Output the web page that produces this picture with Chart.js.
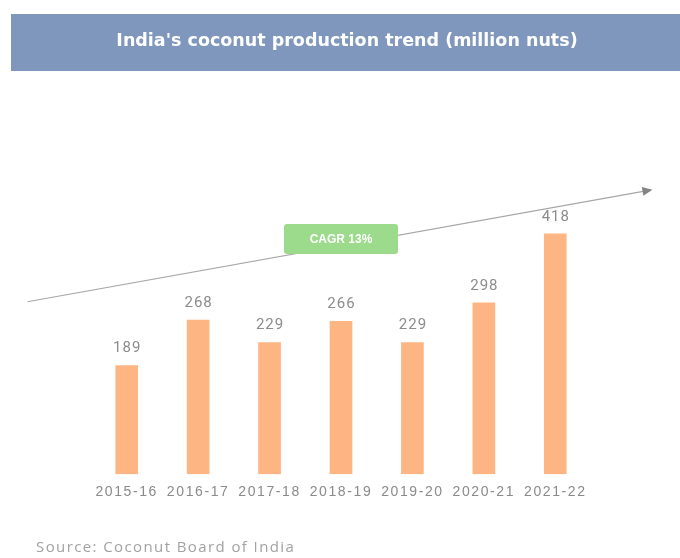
<!DOCTYPE html>
<html>
<head>
<meta charset="utf-8">
<style>
  html, body { margin: 0; padding: 0; background: #ffffff; }
  #wrap { width: 680px; height: 558px; position: relative; }
</style>
<script src="https://cdn.jsdelivr.net/npm/chart.js@4.4.1/dist/chart.umd.min.js"></script>
</head>
<body>
<div id="wrap"><canvas id="chart" width="680" height="558"></canvas></div>
<script>
// Coconut production by crop year (million nuts)
const years = ['2015-16', '2016-17', '2017-18', '2018-19', '2019-20', '2020-21', '2021-22'];
const production = [189, 268, 229, 266, 229, 298, 418];

const titleText = "India's coconut production trend (million nuts)";
const sourceText = 'Source: Coconut Board of India';
const cagrText = 'CAGR 13%';

// Trend arrow and badge, placed in axis units (category index, value)
const trendStart = [-1.39, 300];
const trendEnd = [7.36, 495];
const badgeAt = [3, 409];

function catX(chart, idx) {
  const xs = chart.scales.x;
  const x0 = xs.getPixelForValue(0);
  const x1 = xs.getPixelForValue(1);
  return x0 + (x1 - x0) * idx;
}

const decorations = {
  id: 'decorations',
  beforeDraw(chart) {
    const ctx = chart.ctx;
    const ys = chart.scales.y;
    ctx.save();
    ctx.fillStyle = '#ffffff';
    ctx.fillRect(0, 0, chart.width, chart.height);

    // header band
    ctx.fillStyle = '#7f97bd';
    ctx.fillRect(11, 14, chart.width - 11, 57);
    ctx.fillStyle = '#ffffff';
    ctx.font = 'bold 17.5px "DejaVu Sans"';
    ctx.textAlign = 'center';
    ctx.textBaseline = 'middle';
    ctx.fillText(titleText, 347, 41);

    // source line
    ctx.fillStyle = '#a2a2a2';
    ctx.font = '15px "Open Sans"';
    ctx.letterSpacing = '1.4px';
    ctx.textAlign = 'left';
    ctx.fillText(sourceText, 36, 548);
    ctx.letterSpacing = '0px';

    // trend arrow
    const ax = catX(chart, trendStart[0]), ay = ys.getPixelForValue(trendStart[1]);
    const bx = catX(chart, trendEnd[0]), by = ys.getPixelForValue(trendEnd[1]);
    const ang = Math.atan2(by - ay, bx - ax);
    ctx.strokeStyle = '#a6a6a6';
    ctx.lineWidth = 1.2;
    ctx.beginPath();
    ctx.moveTo(ax, ay);
    ctx.lineTo(bx - 8 * Math.cos(ang), by - 8 * Math.sin(ang));
    ctx.stroke();
    ctx.fillStyle = '#858585';
    ctx.beginPath();
    ctx.moveTo(bx, by);
    ctx.lineTo(bx - 10 * Math.cos(ang) + 4.5 * Math.sin(ang), by - 10 * Math.sin(ang) - 4.5 * Math.cos(ang));
    ctx.lineTo(bx - 10 * Math.cos(ang) - 4.5 * Math.sin(ang), by - 10 * Math.sin(ang) + 4.5 * Math.cos(ang));
    ctx.closePath();
    ctx.fill();

    // CAGR badge
    const cx = catX(chart, badgeAt[0]), cy = ys.getPixelForValue(badgeAt[1]);
    ctx.fillStyle = '#9cdb8c';
    ctx.beginPath();
    ctx.roundRect(cx - 57, cy - 15, 114, 30, 3);
    ctx.fill();
    ctx.fillStyle = '#ffffff';
    ctx.font = 'bold 12px "Liberation Sans"';
    ctx.textAlign = 'center';
    ctx.textBaseline = 'middle';
    ctx.fillText(cagrText, cx, cy + 1);
    ctx.restore();

    // spacing for the axis labels drawn next
    ctx.letterSpacing = '1.6px';
  },
  afterDatasetsDraw(chart) {
    const ctx = chart.ctx;
    const meta = chart.getDatasetMeta(0);
    ctx.save();
    ctx.letterSpacing = '1px';
    ctx.font = '15px Roboto';
    ctx.fillStyle = '#8c8c8c';
    ctx.textAlign = 'center';
    ctx.textBaseline = 'middle';
    meta.data.forEach((bar, i) => {
      ctx.fillText(String(production[i]), bar.x + 0.5, bar.y - 17);
    });
    ctx.restore();
    ctx.letterSpacing = '0px';
  }
};

new Chart(document.getElementById('chart'), {
  type: 'bar',
  data: {
    labels: years,
    datasets: [{
      data: production,
      backgroundColor: '#fdb583',
      borderWidth: 0,
      barThickness: 22
    }]
  },
  options: {
    responsive: false,
    animation: false,
    devicePixelRatio: 1,
    layout: { padding: { top: 204, left: 91, right: 89, bottom: 47 } },
    plugins: {
      legend: { display: false },
      tooltip: { enabled: false },
      title: { display: false }
    },
    scales: {
      x: {
        grid: { display: false, drawTicks: false },
        border: { display: false },
        ticks: {
          color: '#8a8a8a',
          font: { family: '"Liberation Sans"', size: 14 },
          padding: 10,
          maxRotation: 0,
          autoSkip: false
        }
      },
      y: {
        display: false,
        min: 0,
        max: 470
      }
    }
  },
  plugins: [decorations]
});
</script>
</body>
</html>
